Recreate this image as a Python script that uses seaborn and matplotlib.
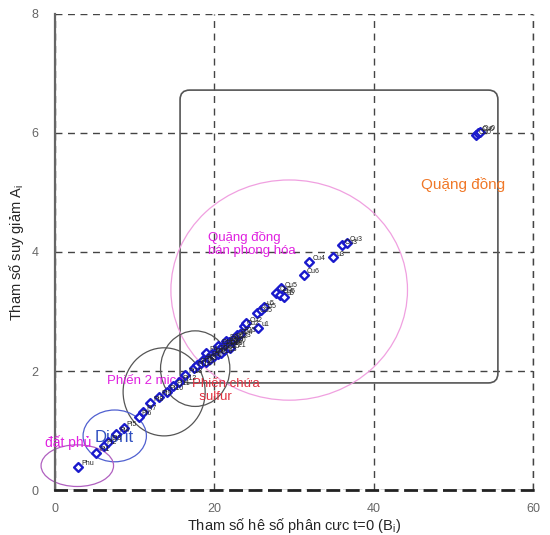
import numpy as np
import pandas as pd
import matplotlib
matplotlib.use("Agg")
import matplotlib.pyplot as plt
import seaborn as sns
from matplotlib.patches import Ellipse, FancyBboxPatch

# Polarization parameter B_i (x) and decay parameter A_i (y)
b_values = [2.9, 5.2, 6.1, 6.7, 7.7, 8.6, 10.5, 11.1, 11.9, 13.0, 14.0, 14.8,
            15.6, 16.3, 17.5, 17.8,
            18.3, 18.6, 18.9, 19.0, 19.2, 19.5, 19.7, 20.0, 20.2, 20.4, 20.5,
            20.6, 20.8, 21.0, 21.2, 21.4, 21.5, 21.6, 21.8, 22.0, 22.0, 22.3,
            22.6, 22.9, 23.2,
            23.7, 24.0, 25.5, 25.3, 25.8, 26.2, 27.8, 28.2, 28.4, 28.7,
            31.2, 31.9, 34.9, 36.0, 36.6, 52.8, 53.1, 53.3]
a_values = [0.39, 0.63, 0.74, 0.81, 0.94, 1.05, 1.23, 1.31, 1.46, 1.57, 1.65, 1.74,
            1.82, 1.93, 2.05, 2.10,
            2.13, 2.18, 2.15, 2.30, 2.22, 2.20, 2.28, 2.25, 2.32, 2.28, 2.42,
            2.35, 2.31, 2.40, 2.36, 2.44, 2.50, 2.40, 2.48, 2.45, 2.38, 2.52,
            2.55, 2.60, 2.63,
            2.75, 2.80, 2.72, 2.97, 3.03, 3.08, 3.31, 3.28, 3.39, 3.24,
            3.62, 3.83, 3.91, 4.11, 4.15, 5.96, 6.00, 6.02]
sample_names = (["Phu"] + ["Pi%d" % k for k in range(1, 16)]
                + ["P%d" % k for k in range(1, 26)]
                + ["Cu2", "Cu2", "u1", "Cu5", "Cu5", "u5", "Cu5", "Cu5", "Cu5", "u5",
                   "Cu6", "Cu4", "u3", "Cu3", "Cu3", "Cu0", "Cu0", "Cu0"])

x_ticks = [0, 20, 40, 60]
y_ticks = [0, 2, 4, 6, 8]

df = pd.DataFrame({"B": b_values, "A": a_values, "name": sample_names})

sns.set_style("white")
plt.rcParams["font.family"] = ["Liberation Sans", "DejaVu Sans"]

fig, ax = plt.subplots(figsize=(5.5, 5.35), dpi=100)
fig.subplots_adjust(left=0.1, right=0.969, bottom=0.084, top=0.974)

ax.set_xlim(0, 60)
ax.set_ylim(0, 8)
ax.set_xticks(x_ticks)
ax.set_yticks(y_ticks)
ax.grid(True, color="#444444", linestyle=(0, (5, 4)), linewidth=1.0)
ax.set_axisbelow(True)
ax.axvline(60, color="#444444", linestyle=(0, (5, 4)), linewidth=1.0, clip_on=False)

for side in ["top", "right"]:
    ax.spines[side].set_visible(False)
ax.spines["bottom"].set_linestyle((0, (4, 3)))
ax.spines["bottom"].set_linewidth(2.0)
ax.spines["bottom"].set_color("#222222")
ax.spines["left"].set_linewidth(1.6)
ax.spines["left"].set_color("#666666")
ax.tick_params(axis="both", colors="#666666", labelsize=9, length=4)
ax.tick_params(axis="x", pad=5)
ax.tick_params(axis="y", pad=8)

# group outlines
ax.add_patch(FancyBboxPatch((15.7, 1.80), 55.6 - 15.7, 6.72 - 1.80,
                            boxstyle="round,pad=0,rounding_size=1.2",
                            mutation_aspect=0.134, fill=False,
                            edgecolor="#555555", linewidth=1.2, zorder=2))
ax.add_patch(Ellipse((29.4, 3.36), 29.7, 3.7, fill=False,
                     edgecolor="#f0a0e0", linewidth=0.9, zorder=2))
ax.add_patch(Ellipse((13.7, 1.65), 10.3, 1.48, fill=False,
                     edgecolor="#555555", linewidth=0.9, zorder=2))
ax.add_patch(Ellipse((17.6, 2.04), 8.7, 1.27, fill=False,
                     edgecolor="#555555", linewidth=0.9, zorder=2))
ax.add_patch(Ellipse((7.5, 0.91), 7.95, 0.87, fill=False,
                     edgecolor="#5060d0", linewidth=0.9, zorder=2))
ax.add_patch(Ellipse((2.8, 0.41), 9.1, 0.70, fill=False, clip_on=False,
                     edgecolor="#b060c0", linewidth=0.9, zorder=2))

sns.scatterplot(data=df, x="B", y="A", marker="D", s=20, color="white",
                edgecolor="#1a1acc", linewidth=1.7, ax=ax, zorder=4)

for _, row in df.iterrows():
    ax.text(row["B"] + 0.4, row["A"] + 0.03, row["name"], fontsize=5,
            color="#222222", zorder=5)

ax.text(46.0, 5.14, "Quặng đồng", color="#f07828", fontsize=11, va="center")
ax.text(19.2, 4.14, "Quặng đồng\nbán phong hóa", color="#e020e0",
        fontsize=9.5, va="center", linespacing=1.1)
ax.text(6.5, 1.83, "Phiến 2 mica", color="#e020e0", fontsize=9.5, va="center")
ax.text(17.2, 1.67, "Phiến chứa\n  sulfur", color="#e03040", fontsize=9.5,
        va="center", linespacing=1.1)
ax.text(5.0, 0.89, "Diorit", color="#3050c0", fontsize=12, va="center")
ax.text(-1.25, 0.79, "đất phủ", color="#e020e0", fontsize=10, va="center",
        clip_on=False)

ax.set_xlabel("Tham số hê số phân cưc t=0 (B$_\\mathregular{i}$)", fontsize=10.5, labelpad=1)
ax.set_ylabel("Tham số suy giảm A$_\\mathregular{i}$", fontsize=10.5, labelpad=4)

fig.savefig("out.png", dpi=100)
